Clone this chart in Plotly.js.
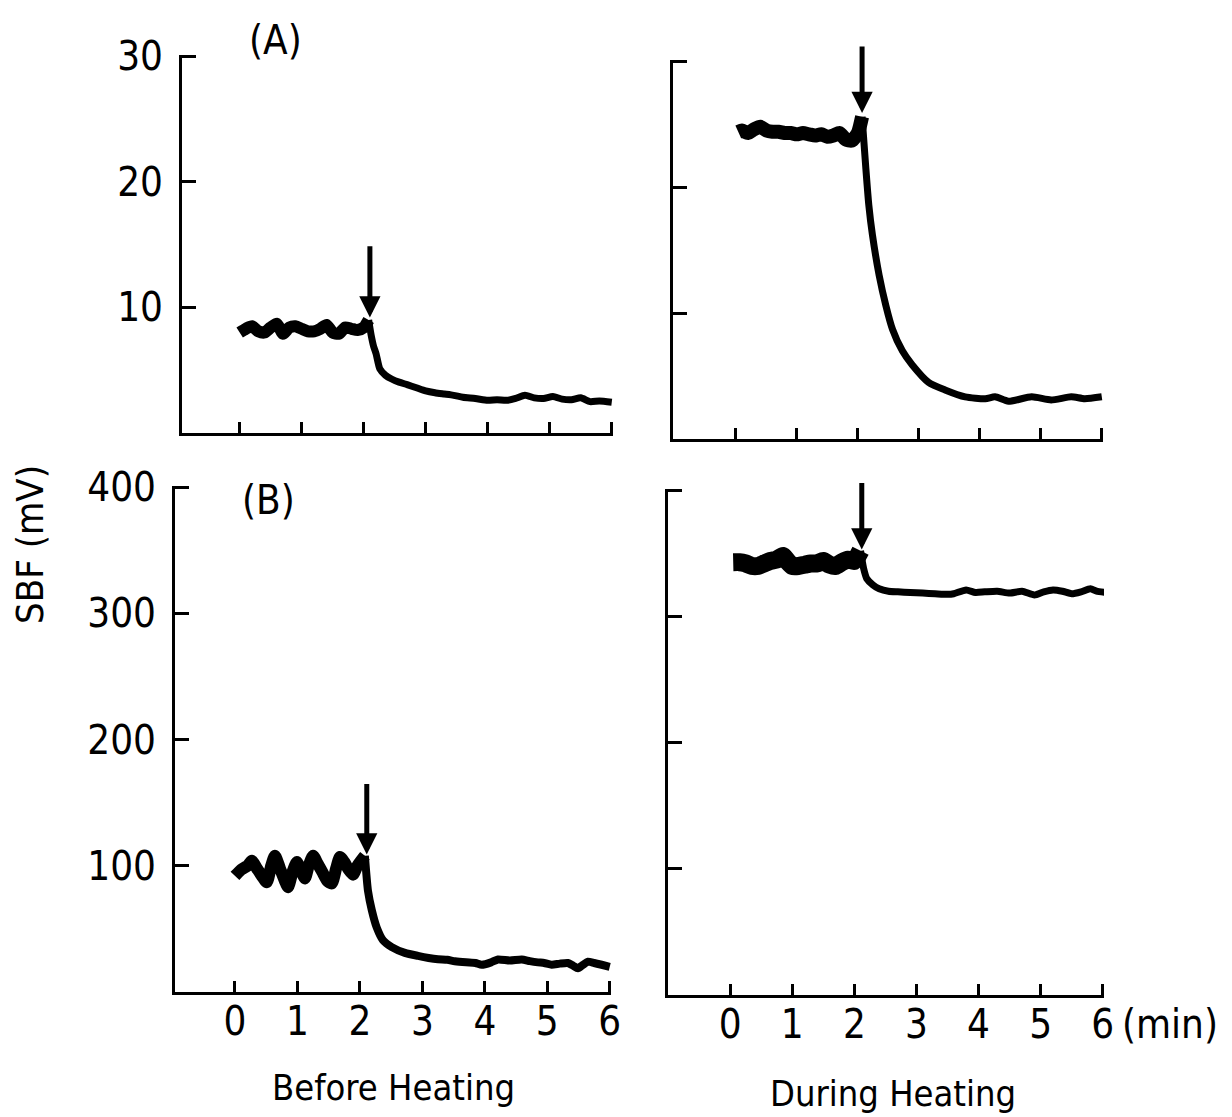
<!DOCTYPE html>
<html>
<head>
<meta charset="utf-8">
<script src="https://cdn.plot.ly/plotly-3.0.1.min.js"></script>
<style>html,body{margin:0;padding:0;background:#fff;}#chart{width:1232px;height:1117px;}</style>
</head>
<body>
<div id="chart"></div>
<script>
// ---------- data (time in min, SBF in mV) ----------
var xTicks = [0, 1, 2, 3, 4, 5, 6];
var xTickLabels = ['0', '1', '2', '3', '4', '5', '6'];
var yTicksA = [10, 20, 30];
var yTickLabelsA = ['10', '20', '30'];
var yTicksB = [100, 200, 300, 400];
var yTickLabelsB = ['100', '200', '300', '400'];

// (A) Before heating
var aBeforeBaseT = [0, 0.1, 0.2, 0.3, 0.4, 0.5, 0.6, 0.7, 0.8, 0.9, 1.0, 1.1, 1.2, 1.3, 1.4, 1.5, 1.6, 1.7, 1.8, 1.9, 2.0, 2.08];
var aBeforeBaseV = [8.0, 8.3, 8.5, 8.1, 8.0, 8.4, 8.7, 7.9, 8.4, 8.5, 8.3, 8.1, 8.1, 8.3, 8.6, 8.0, 7.9, 8.4, 8.3, 8.2, 8.4, 9.0];
var aBeforeRespT = [2.08, 2.12, 2.16, 2.2, 2.26, 2.35, 2.45, 2.57, 2.7, 2.85, 3.0, 3.15, 3.3, 3.45, 3.6, 3.8, 4.0, 4.15, 4.3, 4.45, 4.6, 4.75, 4.9, 5.05, 5.2, 5.35, 5.5, 5.65, 5.8, 6.0];
var aBeforeRespV = [9.0, 7.8, 6.9, 6.3, 5.1, 4.6, 4.3, 4.05, 3.85, 3.6, 3.35, 3.2, 3.1, 3.0, 2.85, 2.75, 2.6, 2.65, 2.6, 2.75, 3.0, 2.8, 2.75, 2.9, 2.7, 2.65, 2.8, 2.5, 2.55, 2.45];

// (A) During heating
var aDuringBaseT = [0.04, 0.1, 0.2, 0.3, 0.4, 0.5, 0.6, 0.7, 0.8, 0.9, 1.0, 1.1, 1.2, 1.3, 1.4, 1.5, 1.6, 1.7, 1.8, 1.9, 2.0, 2.07];
var aDuringBaseV = [24.4, 24.5, 24.3, 24.6, 24.8, 24.5, 24.4, 24.4, 24.3, 24.3, 24.2, 24.3, 24.2, 24.1, 24.2, 24.0, 24.1, 24.3, 23.8, 23.7, 24.3, 25.6];
var aDuringRespT = [2.07, 2.13, 2.18, 2.24, 2.35, 2.46, 2.57, 2.73, 2.89, 3.16, 3.43, 3.76, 4.09, 4.25, 4.47, 4.85, 5.17, 5.5, 5.72, 6.0];
var aDuringRespV = [25.6, 21.6, 18.6, 16.2, 13.0, 10.6, 8.7, 7.0, 5.9, 4.5, 3.9, 3.35, 3.2, 3.35, 3.0, 3.35, 3.1, 3.35, 3.2, 3.35];

// (B) Before heating
var bBeforeBaseT = [0, 0.1, 0.2, 0.27, 0.35, 0.43, 0.51, 0.58, 0.64, 0.72, 0.8, 0.85, 0.92, 0.99, 1.05, 1.12, 1.18, 1.25, 1.32, 1.4, 1.48, 1.55, 1.62, 1.68, 1.75, 1.82, 1.89, 1.96, 2.08];
var bBeforeBaseV = [92, 97, 100, 104, 98, 92, 87, 100, 108, 98, 88, 83, 95, 103, 97, 90, 100, 108, 102, 95, 88, 86, 98, 107, 103, 97, 93, 100, 108];
var bBeforeRespT = [2.08, 2.13, 2.19, 2.27, 2.37, 2.51, 2.72, 2.93, 3.1, 3.25, 3.4, 3.52, 3.7, 3.85, 3.95, 4.1, 4.21, 4.4, 4.59, 4.72, 4.85, 4.95, 5.07, 5.2, 5.33, 5.41, 5.49, 5.57, 5.65, 5.75, 5.87, 6.0];
var bBeforeRespV = [108, 80, 65, 51, 41, 35.6, 31, 28.6, 27, 26, 25.5, 24.4, 23.5, 23, 21.6, 23.5, 25.8, 25, 25.8, 24.5, 23.5, 23, 21.6, 22.5, 23, 21, 18.8, 21.5, 24, 23, 21.6, 20];

// (B) During heating
var bDuringBaseT = [0.05, 0.15, 0.25, 0.35, 0.45, 0.55, 0.65, 0.75, 0.85, 0.92, 1.0, 1.1, 1.2, 1.3, 1.4, 1.5, 1.6, 1.7, 1.8, 1.9, 2.0, 2.1];
var bDuringBaseV = [343, 343, 342, 340, 340, 342, 344, 345, 348, 344, 340, 340, 341, 342, 342, 344, 341, 340, 343, 345, 344, 352];
var bDuringRespT = [2.1, 2.15, 2.2, 2.3, 2.4, 2.55, 2.7, 2.9, 3.1, 3.3, 3.5, 3.6, 3.8, 3.95, 4.1, 4.3, 4.5, 4.7, 4.9, 5.05, 5.2, 5.35, 5.5, 5.65, 5.8, 5.9, 6.05];
var bDuringRespV = [352, 338, 330, 325, 322, 320, 319.5, 319, 318.5, 318, 317.5, 318, 321, 319, 319.5, 320, 318.5, 320, 317, 319.5, 321, 320, 318, 319.5, 322, 320, 319];

// heating-onset arrows (time, tip value, tail value) per panel: A-before, A-during, B-before, B-during
var onsetTime = [2.1, 2.07, 2.11, 2.12];
var onsetTip = [9.2, 25.9, 109, 353];
var onsetTail = [15.0, 31.3, 166, 407];

// ---------- figure ----------
var W = 1232, H = 1117;
var FONT = '"Liberation Sans Narrow", "DejaVu Sans Condensed", "Arial Narrow", sans-serif';
function fx(p) { return p / W; }
function fy(p) { return 1 - p / H; }

function trace(t, v, xa, ya, w) {
  return {x: t, y: v, xaxis: xa, yaxis: ya, type: 'scatter', mode: 'lines',
          line: {color: '#000', width: w, shape: 'spline', smoothing: 0.6},
          hoverinfo: 'skip', showlegend: false};
}

var data = [
  trace(aBeforeBaseT, aBeforeBaseV, 'x', 'y', 12),
  trace(aBeforeRespT, aBeforeRespV, 'x', 'y', 7),
  trace(aDuringBaseT, aDuringBaseV, 'x2', 'y2', 14),
  trace(aDuringRespT, aDuringRespV, 'x2', 'y2', 7),
  trace(bBeforeBaseT, bBeforeBaseV, 'x3', 'y3', 12),
  trace(bBeforeRespT, bBeforeRespV, 'x3', 'y3', 8),
  trace(bDuringBaseT, bDuringBaseV, 'x4', 'y4', 18),
  trace(bDuringRespT, bDuringRespV, 'x4', 'y4', 7)
];

function xAxis(domPx, range, anchor, showLabels) {
  return {domain: [fx(domPx[0]), fx(domPx[1])], range: range, anchor: anchor,
          showline: true, linecolor: '#000', linewidth: 3, showgrid: false, zeroline: false,
          ticks: 'inside', ticklen: 11, tickwidth: 3, tickcolor: '#000',
          tickmode: 'array', tickvals: xTicks, ticktext: xTickLabels,
          showticklabels: showLabels, ticklabelstandoff: -8,
          tickfont: {family: FONT, size: 40, color: '#000'}, fixedrange: true};
}
function yAxis(domPx, range, anchor, vals, labels, showLabels) {
  return {domain: [fy(domPx[1]), fy(domPx[0])], range: range, anchor: anchor,
          showline: true, linecolor: '#000', linewidth: 3, showgrid: false, zeroline: false,
          ticks: 'inside', ticklen: 14, tickwidth: 3, tickcolor: '#000',
          tickmode: 'array', tickvals: vals, ticktext: labels,
          showticklabels: showLabels, ticklabelstandoff: 8,
          tickfont: {family: FONT, size: 40, color: '#000'}, fixedrange: true};
}

var layout = {
  width: W, height: H,
  margin: {l: 0, r: 0, t: 0, b: 0},
  paper_bgcolor: '#fff', plot_bgcolor: 'rgba(0,0,0,0)',
  showlegend: false,
  xaxis:  xAxis([182, 613], [-0.93, 6.02], 'y', false),
  yaxis:  yAxis([55, 433], [0, 30.1], 'x', yTicksA, yTickLabelsA, true),
  xaxis2: xAxis([673, 1103], [-1.03, 6.02], 'y2', false),
  yaxis2: yAxis([60, 439], [0, 30.1], 'x2', yTicksA, yTickLabelsA, false),
  xaxis3: xAxis([175, 611], [-0.96, 6.02], 'y3', true),
  yaxis3: yAxis([486, 992], [0, 401], 'x3', yTicksB, yTickLabelsB, true),
  xaxis4: xAxis([668, 1104], [-1.0, 6.02], 'y4', true),
  yaxis4: yAxis([489, 995], [0, 401], 'x4', yTicksB, yTickLabelsB, false),
  annotations: []
};

var axisPairs = [['x', 'y'], ['x2', 'y2'], ['x3', 'y3'], ['x4', 'y4']];
for (var i = 0; i < 4; i++) {
  layout.annotations.push({
    xref: axisPairs[i][0], yref: axisPairs[i][1], axref: axisPairs[i][0], ayref: axisPairs[i][1],
    x: onsetTime[i], y: onsetTip[i], ax: onsetTime[i], ay: onsetTail[i],
    text: '', showarrow: true, arrowhead: 2, arrowsize: 0.85, arrowwidth: 5, arrowcolor: '#000'
  });
}

function label(text, xp, yp, size, opts) {
  var a = {xref: 'paper', yref: 'paper', x: fx(xp), y: fy(yp), text: text, showarrow: false,
           font: {family: FONT, size: size, color: '#000'}, xanchor: 'center', yanchor: 'middle'};
  for (var k in (opts || {})) a[k] = opts[k];
  return a;
}
layout.annotations.push(label('(A)', 275, 40, 40));
layout.annotations.push(label('(B)', 268, 500, 40));
layout.annotations.push(label('SBF (mV)', 30, 545, 38, {textangle: -90}));
layout.annotations.push(label('Before Heating', 393, 1087, 36));
layout.annotations.push(label('During Heating', 893, 1093, 36));
layout.annotations.push(label('(min)', 1120, 1024, 40, {xanchor: 'left'}));

Plotly.newPlot('chart', data, layout, {displayModeBar: false, staticPlot: true});
</script>
</body>
</html>
